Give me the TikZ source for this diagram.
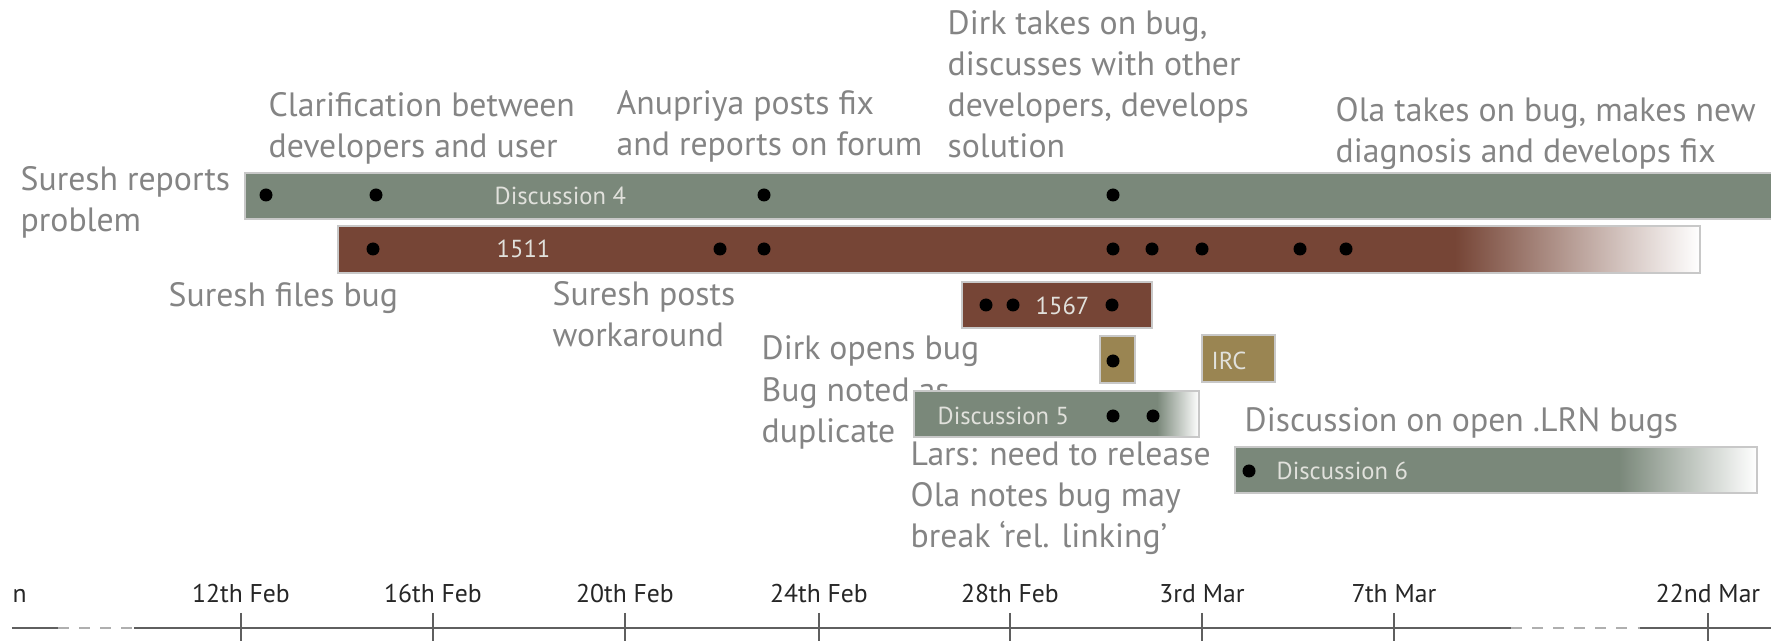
\documentclass[tikz,border=0pt]{standalone}
\usepackage{fontspec}
\setmainfont{PT Sans}
\usepackage{tikz}
\usetikzlibrary{positioning}

\definecolor{talkgreen}{RGB}{122,136,122}
\definecolor{bugbrown}{RGB}{118,69,54}
\definecolor{ircolive}{RGB}{154,133,82}
\definecolor{notegray}{RGB}{132,132,132}
\definecolor{barwhite}{RGB}{225,225,220}
\definecolor{barrim}{RGB}{200,200,200}
\definecolor{axisgray}{RGB}{95,95,95}

\begin{document}
\begin{tikzpicture}[
    note/.style={anchor=base west,align=left,inner sep=0pt,text=notegray,font=\fontsize{9.6}{11.7}\selectfont},
    barname/.style={anchor=west,inner sep=0pt,text=barwhite,font=\fontsize{7}{8}\selectfont},
    datename/.style={anchor=base,inner sep=0pt,text=black!85,font=\fontsize{7.3}{8}\selectfont},
    barrimline/.style={draw=barrim,line width=0.4pt},
  ]
\useasboundingbox (0,0) rectangle (17.71,-6.41);

% what happened (placed at the baseline of the last line)
\node[note] (sureshreports) at (0.20,-2.32) {Suresh reports\\problem};
\node[note] (clarify) at (2.68,-1.58) {Clarification between\\developers and user};
\node[note] (anupriya) at (6.16,-1.56) {Anupriya posts fix\\and reports on forum};
\node[note] (dirktakes) at (9.47,-1.58) {Dirk takes on bug,\\discusses with other\\developers, develops\\solution};
\node[note] (olatakes) at (13.35,-1.63) {Ola takes on bug, makes new\\diagnosis and develops fix};
\node[note] (filesbug) at (1.68,-3.07) {Suresh files bug};
\node[note] (workaround) at (5.52,-3.47) {Suresh posts\\workaround};
\node[note] (dirkopens) at (7.61,-3.60) {Dirk opens bug};
\node[note] (duplicate) at (7.61,-4.43) {Bug noted as\\duplicate};
\node[note] (larsrelease) at (9.10,-5.48) {Lars: need to release\\Ola notes bug may\\break ‘rel. linking’};
\node[note] (lrnbugs) at (12.44,-4.32) {Discussion on open .LRN bugs};

% threads
\fill[talkgreen] (2.45,-1.73) rectangle (17.71,-2.19);
\draw[barrimline] (17.71,-1.73) -- (2.45,-1.73) -- (2.45,-2.19) -- (17.71,-2.19);
\fill[bugbrown] (3.38,-2.26) rectangle (14.55,-2.73);
\shade[left color=bugbrown,right color=white] (14.55,-2.26) rectangle (17.00,-2.73);
\draw[barrimline] (3.38,-2.26) rectangle (17.00,-2.73);
\fill[bugbrown,barrimline] (9.62,-2.82) rectangle (11.52,-3.28);
\fill[ircolive,barrimline] (11.00,-3.36) rectangle (11.35,-3.83);
\fill[ircolive,barrimline] (12.02,-3.35) rectangle (12.75,-3.82);
\fill[talkgreen] (9.14,-3.91) rectangle (11.57,-4.37);
\shade[left color=talkgreen,right color=white] (11.57,-3.91) rectangle (11.99,-4.37);
\draw[barrimline] (9.14,-3.91) rectangle (11.99,-4.37);
\fill[talkgreen] (12.35,-4.47) rectangle (16.19,-4.93);
\shade[left color=talkgreen,right color=white] (16.19,-4.47) rectangle (17.57,-4.93);
\draw[barrimline] (12.35,-4.47) rectangle (17.57,-4.93);

\node[barname] (disc4) at (4.94,-1.96) {Discussion 4};
\node[barname] (bug1511) at (4.96,-2.49) {1511};
\node[barname] (bug1567) at (10.35,-3.06) {1567};
\node[barname] (irc) at (12.11,-3.61) {IRC};
\node[barname] (disc5) at (9.37,-4.16) {Discussion 5};
\node[barname] (disc6) at (12.76,-4.71) {Discussion 6};

% posts
\fill (2.66,-1.95) circle (0.065) (3.76,-1.95) circle (0.065)
      (7.64,-1.95) circle (0.065) (11.13,-1.95) circle (0.065);
\fill (3.73,-2.49) circle (0.065) (7.20,-2.49) circle (0.065)
      (7.64,-2.49) circle (0.065) (11.13,-2.49) circle (0.065)
      (11.52,-2.49) circle (0.065) (12.02,-2.49) circle (0.065)
      (13.00,-2.49) circle (0.065) (13.46,-2.49) circle (0.065);
\fill (9.86,-3.05) circle (0.065) (10.13,-3.05) circle (0.065)
      (11.12,-3.05) circle (0.065);
\fill (11.13,-3.61) circle (0.065);
\fill (11.13,-4.16) circle (0.065) (11.53,-4.16) circle (0.065);
\fill (12.49,-4.71) circle (0.065);

% time line
\draw[axisgray,line width=0.7pt] (0.12,-6.28) -- (0.58,-6.28);
\draw[axisgray!50,line width=0.7pt,dashed] (0.58,-6.28) -- (1.34,-6.28);
\draw[axisgray,line width=0.7pt] (1.34,-6.28) -- (15.11,-6.28);
\draw[axisgray!50,line width=0.7pt,dashed] (15.11,-6.28) -- (16.40,-6.28);
\draw[axisgray,line width=0.7pt] (16.40,-6.28) -- (17.71,-6.28);

\node[datename,anchor=base west] (dstart) at (0.12,-6.03) {n};
\node[datename] (d12feb) at (2.41,-6.03) {12th Feb};
\node[datename] (d16feb) at (4.33,-6.03) {16th Feb};
\node[datename] (d20feb) at (6.25,-6.03) {20th Feb};
\node[datename] (d24feb) at (8.19,-6.03) {24th Feb};
\node[datename] (d28feb) at (10.10,-6.03) {28th Feb};
\node[datename] (d3mar) at (12.02,-6.03) {3rd Mar};
\node[datename] (d7mar) at (13.94,-6.03) {7th Mar};
\node[datename] (d22mar) at (17.08,-6.03) {22nd Mar};

\draw[axisgray,line width=0.5pt] (2.41,-6.13) -- (2.41,-6.41);
\draw[axisgray,line width=0.5pt] (4.33,-6.13) -- (4.33,-6.41);
\draw[axisgray,line width=0.5pt] (6.25,-6.13) -- (6.25,-6.41);
\draw[axisgray,line width=0.5pt] (8.19,-6.13) -- (8.19,-6.41);
\draw[axisgray,line width=0.5pt] (10.10,-6.13) -- (10.10,-6.41);
\draw[axisgray,line width=0.5pt] (12.02,-6.13) -- (12.02,-6.41);
\draw[axisgray,line width=0.5pt] (13.94,-6.13) -- (13.94,-6.41);
\draw[axisgray,line width=0.5pt] (17.08,-6.13) -- (17.08,-6.41);
\end{tikzpicture}
\end{document}
